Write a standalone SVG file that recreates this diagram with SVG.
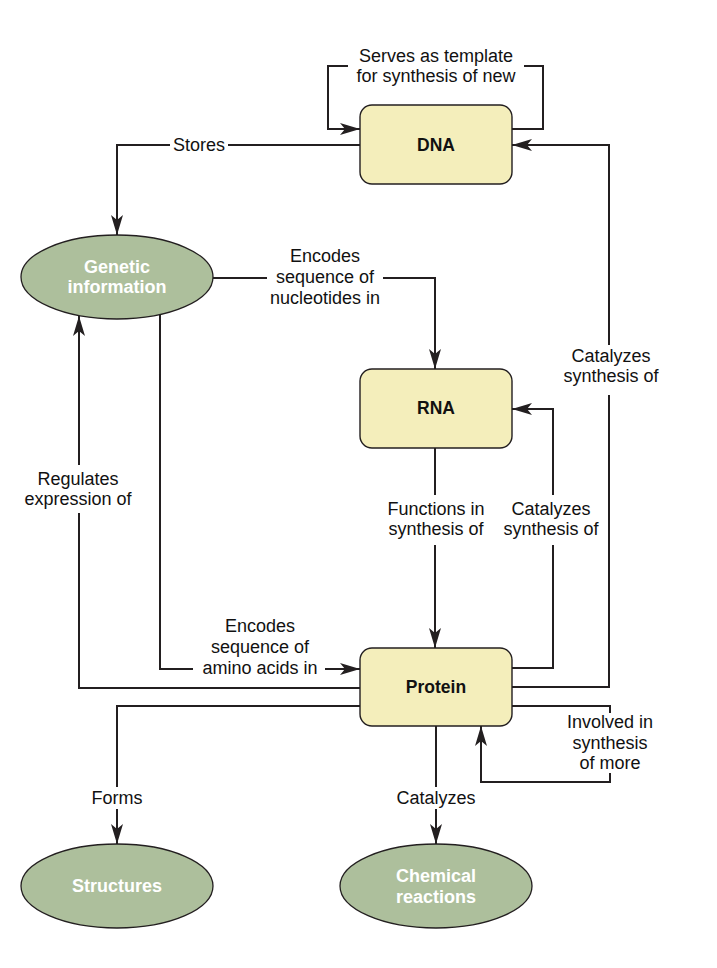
<svg xmlns="http://www.w3.org/2000/svg" width="717" height="968" viewBox="0 0 717 968">
<style>
.bg{fill:#ffffff}
.box{fill:#f4eebb;stroke:#231f20;stroke-width:1.4}
.ell{fill:#adbf9c;stroke:#231f20;stroke-width:1.3}
.btxt{font-family:"Liberation Sans",Arial,sans-serif;font-weight:bold;font-size:17.5px;fill:#111111;text-anchor:middle}
.etxt{font-family:"Liberation Sans",Arial,sans-serif;font-weight:bold;font-size:18px;fill:#ffffff;text-anchor:middle}
.lbl{font-family:"Liberation Sans",Arial,sans-serif;font-size:18px;fill:#111111;text-anchor:middle}
.c{fill:none;stroke:#231f20;stroke-width:2}
</style>
<defs>
<marker id="ah" markerUnits="userSpaceOnUse" viewBox="0 0 20 12" markerWidth="20" markerHeight="12" refX="20" refY="6" orient="auto">
<path d="M0,0 L20,6 L0,12 L5,6 z" fill="#231f20"/>
</marker>
</defs>
<rect class="bg" x="0" y="0" width="717" height="968"/>
<g id="connectors">
<path class="c" d="M348,66 H328 V129 H360" marker-end="url(#ah)"/>
<path class="c" d="M524,66 H543 V129 H512"/>
<path class="c" d="M360,145 H228"/>
<path class="c" d="M170,145 H117 V235" marker-end="url(#ah)"/>
<path class="c" d="M512,687 H609 V395"/>
<path class="c" d="M609,345 V145 H512" marker-end="url(#ah)"/>
<path class="c" d="M213,278 H267"/>
<path class="c" d="M383,278 H435 V369" marker-end="url(#ah)"/>
<path class="c" d="M435,448 V495"/>
<path class="c" d="M435,545 V648" marker-end="url(#ah)"/>
<path class="c" d="M512,668 H553 V545"/>
<path class="c" d="M553,495 V409 H512" marker-end="url(#ah)"/>
<path class="c" d="M160,315 V669 H193"/>
<path class="c" d="M325,669 H360" marker-end="url(#ah)"/>
<path class="c" d="M360,688 H79 V513"/>
<path class="c" d="M79,465 V316" marker-end="url(#ah)"/>
<path class="c" d="M360,706 H117 V787"/>
<path class="c" d="M117,809 V844" marker-end="url(#ah)"/>
<path class="c" d="M436,726 V787"/>
<path class="c" d="M436,809 V844" marker-end="url(#ah)"/>
<path class="c" d="M512,706 H610 V713"/>
<path class="c" d="M610,773 V782 H481 V726" marker-end="url(#ah)"/>
<text class="lbl" x="436" y="62">Serves as template</text>
<text class="lbl" x="436" y="82">for synthesis of new</text>
<text class="lbl" x="199" y="151">Stores</text>
<text class="lbl" x="325" y="262">Encodes</text>
<text class="lbl" x="325" y="283">sequence of</text>
<text class="lbl" x="325" y="304">nucleotides in</text>
<text class="lbl" x="611" y="362">Catalyzes</text>
<text class="lbl" x="611" y="382">synthesis of</text>
<text class="lbl" x="78" y="485">Regulates</text>
<text class="lbl" x="78" y="505">expression of</text>
<text class="lbl" x="436" y="515">Functions in</text>
<text class="lbl" x="436" y="535">synthesis of</text>
<text class="lbl" x="551" y="515">Catalyzes</text>
<text class="lbl" x="551" y="535">synthesis of</text>
<text class="lbl" x="260" y="632">Encodes</text>
<text class="lbl" x="260" y="653">sequence of</text>
<text class="lbl" x="260" y="674">amino acids in</text>
<text class="lbl" x="610" y="728">Involved in</text>
<text class="lbl" x="610" y="749">synthesis</text>
<text class="lbl" x="610" y="769">of more</text>
<text class="lbl" x="117" y="804">Forms</text>
<text class="lbl" x="436" y="804">Catalyzes</text>
</g>
<g id="dna">
<rect class="box" x="360" y="105" width="152" height="79" rx="12"/>
<text class="btxt" x="436" y="151">DNA</text>
</g>
<g id="rna">
<rect class="box" x="360" y="369" width="152" height="79" rx="12"/>
<text class="btxt" x="436" y="414">RNA</text>
</g>
<g id="protein">
<rect class="box" x="360" y="648" width="152" height="78" rx="12"/>
<text class="btxt" x="436" y="693">Protein</text>
</g>
<g id="genetic-information">
<ellipse class="ell" cx="117" cy="277" rx="96" ry="42"/>
<text class="etxt" x="117" y="273">Genetic</text>
<text class="etxt" x="117" y="293">information</text>
</g>
<g id="structures">
<ellipse class="ell" cx="117" cy="886" rx="96" ry="42"/>
<text class="etxt" x="117" y="892">Structures</text>
</g>
<g id="chemical-reactions">
<ellipse class="ell" cx="436" cy="886" rx="96" ry="42"/>
<text class="etxt" x="436" y="882">Chemical</text>
<text class="etxt" x="436" y="903">reactions</text>
</g>
</svg>
